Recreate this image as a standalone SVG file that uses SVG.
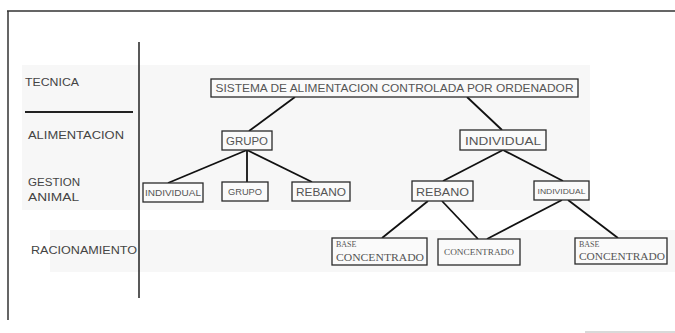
<svg xmlns="http://www.w3.org/2000/svg" width="675" height="333" viewBox="0 0 675 333">
<style>
.bg{fill:#f7f7f7}
.frame{stroke:#333;stroke-width:1.5;fill:none}
.box{fill:#fafafa;stroke:#2a2a2a;stroke-width:1.3}
.lbl{font-family:"Liberation Sans",Arial,sans-serif;fill:#444;font-size:10px}
.t{font-family:"Liberation Sans",Arial,sans-serif;fill:#555;text-anchor:middle}
.s{font-family:"Liberation Serif","Times New Roman",serif;fill:#555}
.edge{stroke:#111;stroke-width:1.8;fill:none}
</style>
<rect class="bg" x="22" y="65" width="568" height="145"/>
<rect class="bg" x="50" y="230" width="625" height="42"/>
<g id="frame">
<path class="frame" d="M7,11 H675 M8,11 V320"/>
<path d="M585,332 H675" stroke="#ccc" stroke-width="1.5"/>
<path d="M139,42 V298" stroke="#222" stroke-width="1.5"/>
<path d="M25,112 H133" stroke="#222" stroke-width="2"/>
</g>
<g id="labels">
<text class="lbl" x="25" y="86" textLength="54" lengthAdjust="spacingAndGlyphs">TECNICA</text>
<text class="lbl" x="28" y="139" textLength="96" lengthAdjust="spacingAndGlyphs">ALIMENTACION</text>
<text class="lbl" x="28" y="186" textLength="52" lengthAdjust="spacingAndGlyphs">GESTION</text>
<text class="lbl" x="28" y="201" textLength="51" lengthAdjust="spacingAndGlyphs">ANIMAL</text>
<text class="lbl" x="31" y="254" textLength="106" lengthAdjust="spacingAndGlyphs">RACIONAMIENTO</text>
</g>
<g id="connectors">
<path class="edge" d="M295,97 L249,131"/>
<path class="edge" d="M467,97 L502,130"/>
<path class="edge" d="M247,150 L168,183"/>
<path class="edge" d="M247,150 L247,182"/>
<path class="edge" d="M247,150 L312,182"/>
<path class="edge" d="M503,150 L443,181"/>
<path class="edge" d="M503,150 L563,181"/>
<path class="edge" d="M428,201 L382,238"/>
<path class="edge" d="M442,201 L478,239"/>
<path class="edge" d="M562,200 L487,239"/>
<path class="edge" d="M568,200 L618,238"/>
</g>
<g id="n-sistema">
<rect class="box" x="211" y="79" width="367" height="18"/>
<text class="t" x="394.5" y="92" font-size="10.5" textLength="358" lengthAdjust="spacingAndGlyphs">SISTEMA DE ALIMENTACION CONTROLADA POR ORDENADOR</text>
</g>
<g id="n-grupo">
<rect class="box" x="222" y="131" width="50" height="19"/>
<text class="t" x="247" y="145" font-size="10" textLength="42" lengthAdjust="spacingAndGlyphs">GRUPO</text>
</g>
<g id="n-individual">
<rect class="box" x="460" y="130" width="86" height="20"/>
<text class="t" x="503" y="144.5" font-size="11" textLength="76" lengthAdjust="spacingAndGlyphs">INDIVIDUAL</text>
</g>
<g id="n-g-individual">
<rect class="box" x="143" y="183" width="60" height="19"/>
<text class="t" x="173" y="196" font-size="8.5" textLength="56" lengthAdjust="spacingAndGlyphs">INDIVIDUAL</text>
</g>
<g id="n-g-grupo">
<rect class="box" x="222" y="182" width="46" height="19"/>
<text class="t" x="245" y="195" font-size="8.5" textLength="34" lengthAdjust="spacingAndGlyphs">GRUPO</text>
</g>
<g id="n-g-rebano">
<rect class="box" x="292" y="182" width="58" height="19"/>
<text class="t" x="321" y="196" font-size="10.5" textLength="50" lengthAdjust="spacingAndGlyphs">REBANO</text>
</g>
<g id="n-i-rebano">
<rect class="box" x="412" y="181" width="61" height="20"/>
<text class="t" x="442.5" y="195.5" font-size="11" textLength="53" lengthAdjust="spacingAndGlyphs">REBANO</text>
</g>
<g id="n-i-individual">
<rect class="box" x="534" y="181" width="55" height="19"/>
<text class="t" x="561.5" y="194" font-size="7" textLength="48" lengthAdjust="spacingAndGlyphs">INDIVIDUAL</text>
</g>
<g id="n-r-base">
<rect class="box" x="332" y="238" width="95" height="27"/>
<text class="s" x="336" y="247" font-size="8">BASE</text>
<text class="s" x="336" y="261" font-size="9.5" textLength="88" lengthAdjust="spacingAndGlyphs">CONCENTRADO</text>
</g>
<g id="n-r-conc">
<rect class="box" x="438" y="239" width="82" height="26"/>
<text class="s" x="479" y="255" font-size="8.5" text-anchor="middle" textLength="70" lengthAdjust="spacingAndGlyphs">CONCENTRADO</text>
</g>
<g id="n-i-base">
<rect class="box" x="575" y="238" width="92" height="26"/>
<text class="s" x="579" y="247" font-size="8">BASE</text>
<text class="s" x="579" y="260" font-size="9.5" textLength="86" lengthAdjust="spacingAndGlyphs">CONCENTRADO</text>
</g>
</svg>
